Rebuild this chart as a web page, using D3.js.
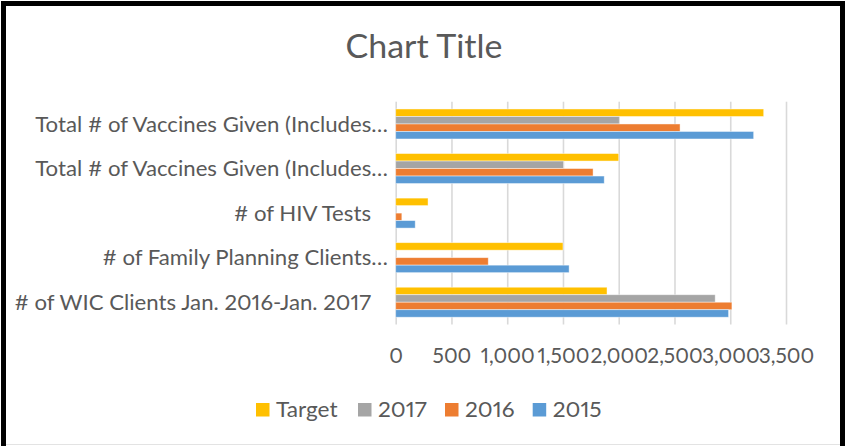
<!DOCTYPE html>
<html><head><meta charset="utf-8">
<script src="https://cdn.jsdelivr.net/npm/d3@7"></script>
<style>
body{margin:0;background:#fff;}
text{font-family:Lato,"Open Sans",sans-serif;fill:#595959;font-variant-numeric:proportional-nums;}
</style>
</head><body>
<svg id="chart" width="846" height="446"></svg>
<script>
// ---- data ----
const categories = [
  "Total # of Vaccines Given (Includes…",
  "Total # of Vaccines Given (Includes…",
  "# of HIV Tests",
  "# of Family Planning Clients…",
  "# of WIC Clients Jan. 2016-Jan. 2017"
];
const seriesNames = ["Target", "2017", "2016", "2015"];
const valuesTarget = [3300, 2000, 290, 1500, 1895];
const values2017   = [2005, 1505, 0, 0, 2865];
const values2016   = [2550, 1770, 55, 830, 3015];
const values2015   = [3210, 1870, 175, 1555, 2985];
const xTickValues  = [0, 500, 1000, 1500, 2000, 2500, 3000, 3500];
const seriesColors = ["#FFC000", "#A5A5A5", "#ED7D31", "#5B9BD5"];
const chartTitle = "Chart Title";

const seriesValues = [valuesTarget, values2017, values2016, values2015];

// ---- layout ----
const svg = d3.select("#chart");
const plot = {left: 395.7, right: 786, top: 101.7, bottom: 324.5};

// helper: compress text horizontally so a reference string hits a measured width
function calib(fontSize, refText, refWidth) {
  const t = svg.append("text").attr("font-size", fontSize).text(refText);
  const w = t.node().getComputedTextLength();
  t.remove();
  return refWidth / w;
}

// frame
svg.append("rect").attr("x", 0).attr("y", 0).attr("width", 846).attr("height", 446).attr("fill", "#fff");
svg.append("line").attr("x1", 6).attr("x2", 840).attr("y1", 444.5).attr("y2", 444.5)
  .attr("stroke", "#E3E3E3").attr("stroke-width", 1.2);
svg.append("rect").attr("x", 3.5).attr("y", 3.5).attr("width", 839).attr("height", 480)
  .attr("fill", "none").attr("stroke", "#000").attr("stroke-width", 5);

// title
const titleSize = 33;
const kTitle = calib(titleSize, chartTitle, 157);
svg.append("text")
  .attr("transform", `translate(424,58) scale(${kTitle},1)`)
  .attr("text-anchor", "middle")
  .attr("font-size", titleSize)
  .text(chartTitle);

// scales
const x = d3.scaleLinear().domain([0, 3500]).range([plot.left, plot.right]);
const y = d3.scaleBand().domain(d3.range(categories.length))
  .range([plot.top, plot.bottom]).paddingInner(0.327).paddingOuter(0.1635);
const ySub = d3.scaleBand().domain(seriesNames).range([0, y.bandwidth()]);

// gridlines
const grid = svg.append("g").attr("transform", `translate(0,${plot.bottom})`)
  .call(d3.axisBottom(x).tickValues(xTickValues).tickSize(-(plot.bottom - plot.top)).tickFormat(""));
grid.select(".domain").remove();
grid.selectAll(".tick line").attr("stroke", "#D9D9D9").attr("stroke-width", 1.6);

// bars
const groups = svg.append("g").selectAll("g")
  .data(categories.map((c, i) => i))
  .join("g")
  .attr("transform", i => `translate(0,${y(i)})`);
groups.selectAll("rect")
  .data(i => seriesNames.map((s, j) => ({s, j, v: seriesValues[j][i]})))
  .join("rect")
  .attr("x", x(0))
  .attr("y", d => ySub(d.s))
  .attr("height", ySub.bandwidth())
  .attr("width", d => Math.max(0, x(d.v) - x(0)))
  .attr("fill", d => seriesColors[d.j])
  .attr("stroke", d => d.v > 0 ? "rgba(255,255,255,0.55)" : "none")
  .attr("stroke-width", 0.8);

// category labels
const labelSize = 21.5;
const kLabel = calib(labelSize, categories[0], 353);
svg.append("g").selectAll("text")
  .data(categories.map((c, i) => ({c, i})))
  .join("text")
  .attr("transform", d => `translate(${d.c.endsWith("…") ? 388 : 371},${y(d.i) + y.bandwidth() / 2}) scale(${kLabel},1)`)
  .attr("text-anchor", "end")
  .attr("dy", "0.36em")
  .attr("font-size", labelSize)
  .text(d => d.c);

// x axis tick labels
const tickSize = 20.5;
const kTick = calib(tickSize, "1,000", 54);
const xAxis = svg.append("g").attr("transform", `translate(0,${plot.bottom})`)
  .call(d3.axisBottom(x).tickValues(xTickValues).tickSize(0).tickFormat(d3.format(",")));
xAxis.select(".domain").remove();
xAxis.attr("font-family", null).attr("font-size", null);
xAxis.selectAll(".tick text")
  .attr("font-size", tickSize)
  .attr("fill", "#595959")
  .attr("y", 38.5).attr("dy", 0)
  .attr("transform", `scale(${kTick},1)`);

// legend
const legendSize = 21.5;
const kLeg = calib(legendSize, "Target 2017 2016 2015", 61 + 46.5 * 3 + 8.5 * 3);
const legendX = [256, 358, 445, 532.7];
const leg = svg.append("g").selectAll("g")
  .data(seriesNames.map((s, j) => ({s, j})))
  .join("g")
  .attr("transform", d => `translate(${legendX[d.j]},403)`);
leg.append("rect").attr("width", 13.5).attr("height", 13.5).attr("fill", d => seriesColors[d.j]);
leg.append("text")
  .attr("transform", `translate(20,14) scale(${kLeg},1)`)
  .attr("font-size", legendSize)
  .text(d => d.s);
</script>
</body></html>
